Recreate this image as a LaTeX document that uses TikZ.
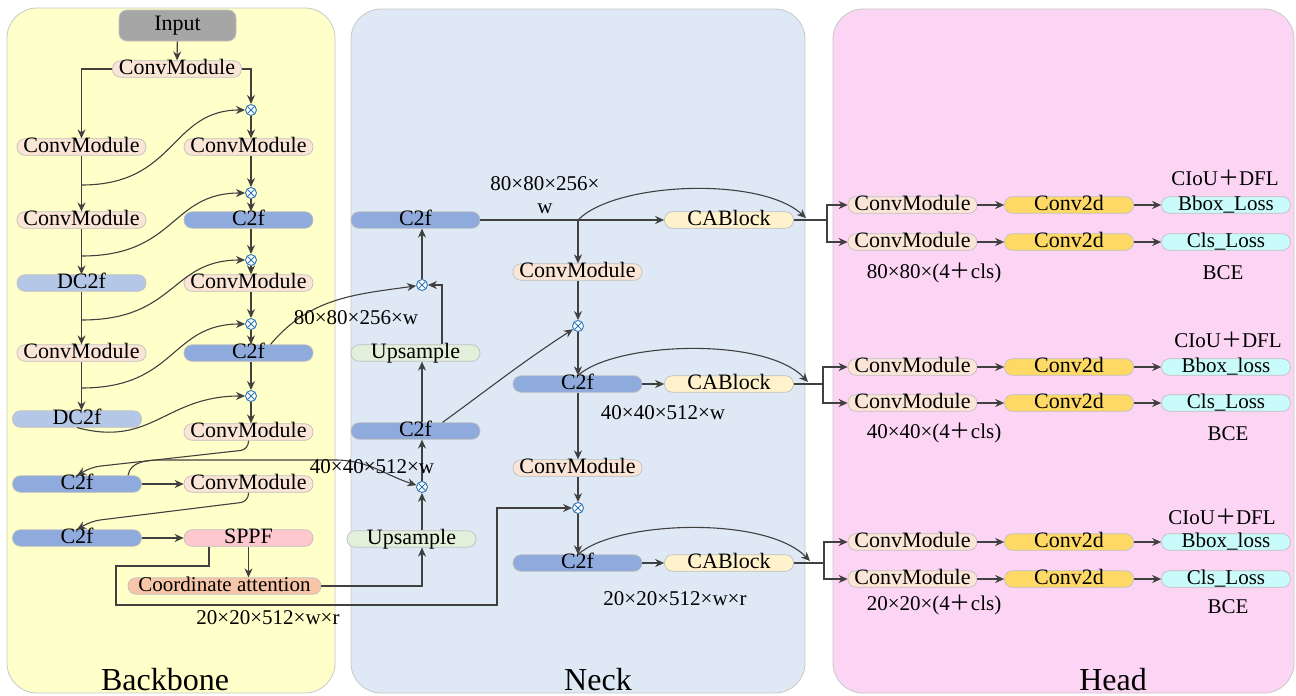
\documentclass[tikz,border=0pt]{standalone}
\usepackage{fontspec}
\setmainfont{Liberation Serif}
\newfontfamily\cjk{Noto Sans CJK SC}
\usetikzlibrary{arrows.meta,calc}
\definecolor{bbfill}{HTML}{FFFFC9}
\definecolor{neckfill}{HTML}{DEE9F5}
\definecolor{headfill}{HTML}{FCD5F5}
\definecolor{panelborder}{HTML}{C8C8C8}
\definecolor{boxborder}{HTML}{C0C0C0}
\definecolor{inputfill}{HTML}{A6A6A6}
\definecolor{cmfill}{HTML}{FBE5D6}
\definecolor{c2ffill}{HTML}{8FAADC}
\definecolor{dcfill}{HTML}{B4C7E7}
\definecolor{sppffill}{HTML}{FFC7CE}
\definecolor{cafill}{HTML}{F7C6A8}
\definecolor{upfill}{HTML}{E2EFDA}
\definecolor{cabfill}{HTML}{FFF2CC}
\definecolor{convfill}{HTML}{FFD966}
\definecolor{lossfill}{HTML}{C9FBFB}
\definecolor{xblue}{HTML}{2E75B6}
\definecolor{arrgray}{HTML}{404040}
\newcommand{\fplus}{{\cjk ＋}}
\begin{document}
\begin{tikzpicture}[x=1pt,y=-1pt,font=\rmfamily\fontsize{21}{25}\selectfont]
\tikzset{
 panelbox/.style={draw=panelborder,line width=0.8pt,rounded corners=30pt},
 modbox/.style={draw=boxborder,line width=0.7pt,rounded corners=8pt,minimum width=129pt,minimum height=16pt,inner sep=0pt,text height=13.5pt,text depth=3pt,font=\rmfamily\fontsize{22}{26}\selectfont},
 cmbox/.style={modbox,fill=cmfill},
 c2fbox/.style={modbox,fill=c2ffill},
 dcbox/.style={modbox,fill=dcfill},
 upbox/.style={modbox,fill=upfill},
 cabbox/.style={modbox,fill=cabfill},
 convbox/.style={modbox,fill=convfill},
 lossbox/.style={modbox,fill=lossfill,font=\rmfamily\fontsize{21}{25}\selectfont},
 otimesnode/.style={circle,draw=xblue,line width=0.9pt,fill=white,minimum size=11pt,inner sep=0pt,
   path picture={\draw[xblue,line width=0.9pt] (path picture bounding box.north west) -- (path picture bounding box.south east) (path picture bounding box.north east) -- (path picture bounding box.south west);}},
 arrline/.style={draw=arrgray,line width=1.1pt,-{Stealth[length=9pt,width=8pt]}},
 plainline/.style={draw=arrgray,line width=1.1pt},
 lbltext/.style={inner sep=0pt},
 titletext/.style={inner sep=0pt,anchor=base,font=\rmfamily\fontsize{32}{36}\selectfont},
}
\useasboundingbox (0,0) rectangle (1296,696);
\fill[white] (0,0) rectangle (1296,696);
% panels
\draw[panelbox,fill=bbfill] (7,8) rectangle (335,693);
\draw[panelbox,fill=neckfill] (351,9) rectangle (805,693);
\draw[panelbox,fill=headfill] (833,9) rectangle (1294,693);
\node[titletext] (tbb) at (165,690) {Backbone};
\node[titletext] (tnk) at (598,690) {Neck};
\node[titletext] (thd) at (1113,690) {Head};

% ---------------- Backbone ----------------
\node[modbox,fill=inputfill,minimum width=117pt,minimum height=31pt] (input) at (177.5,25.5) {Input};
\node[cmbox] (cm0) at (177,69) {ConvModule};
\node[cmbox] (cmL1) at (81.5,147) {ConvModule};
\node[cmbox] (cmL2) at (81.5,220) {ConvModule};
\node[dcbox] (dcL1) at (81.5,283) {DC2f};
\node[cmbox] (cmL3) at (81.5,353) {ConvModule};
\node[dcbox] (dcL2) at (77,419) {DC2f};
\node[otimesnode] (xb1) at (251,110) {};
\node[cmbox] (cmR1) at (248.5,147) {ConvModule};
\node[otimesnode] (xb2) at (251,193) {};
\node[c2fbox] (c2fR1) at (248.5,220) {C2f};
\node[otimesnode] (xb3) at (251,260) {};
\node[cmbox] (cmR2) at (248.5,283) {ConvModule};
\node[otimesnode] (xb4) at (251,324) {};
\node[c2fbox] (c2fR2) at (248.5,353) {C2f};
\node[otimesnode] (xb5) at (251,396) {};
\node[cmbox] (cmR3) at (248.5,432) {ConvModule};
\node[c2fbox] (c2fA) at (77,484) {C2f};
\node[cmbox] (cmR4) at (248.5,484) {ConvModule};
\node[c2fbox] (c2fB) at (77,538) {C2f};
\node[modbox,fill=sppffill] (sppf) at (248.5,538) {SPPF};
\node[modbox,fill=cafill,minimum width=193pt,font=\rmfamily\fontsize{21}{25}\selectfont] (ca) at (224.5,586) {Coordinate attention};

% ---------------- Neck nodes ----------------
\node[c2fbox] (c2fN1) at (415.5,220) {C2f};
\node[otimesnode] (xn1) at (422,285) {};
\node[upbox] (ups1) at (415.5,353) {Upsample};
\node[c2fbox] (c2fN2) at (415.5,431) {C2f};
\node[otimesnode] (xn2) at (422,487) {};
\node[upbox] (ups2) at (411.5,539) {Upsample};

\node[cmbox] (cmN1) at (577.5,272) {ConvModule};
\node[otimesnode] (xm1) at (578,326) {};
\node[c2fbox] (c2fM1) at (577.5,384) {C2f};
\node[cabbox] (cab1) at (729,220) {CABlock};
\node[cabbox] (cab2) at (729,384) {CABlock};
\node[cmbox] (cmN2) at (577.5,468) {ConvModule};
\node[otimesnode] (xm2) at (578,508) {};
\node[c2fbox] (c2fM2) at (577.5,563) {C2f};
\node[cabbox] (cab3) at (729,563) {CABlock};

% ---------------- Backbone edges ----------------
\draw[arrline] (input) -- (cm0);
\draw[arrline] (cm0.west) -| (cmL1.north);
\draw[arrline] (cm0.east) -| (xb1.north);
\draw[arrline] (cmL1) -- (cmL2);
\draw[arrline] (cmL2) -- (dcL1);
\draw[arrline] (dcL1) -- (cmL3);
\draw[arrline] (cmL3.south) -- (cmL3.south |- dcL2.north);
\coordinate (b1) at (81.5,185);
\coordinate (b2) at (81.5,256);
\coordinate (b3) at (81.5,320);
\coordinate (b4) at (81.5,388);
\draw[arrline] (b1) .. controls +(95,0) and +(-75,0) .. (xb1.west);
\draw[arrline] (b2) .. controls +(95,0) and +(-75,0) .. (xb2.west);
\draw[arrline] (b3) .. controls +(95,0) and +(-75,0) .. (xb3.west);
\draw[arrline] (b4) .. controls +(95,0) and +(-75,0) .. (xb4.west);
\draw[arrline] (dcL2.south) .. controls +(75,20) and +(-80,0) .. (xb5.west);
\draw[arrline] (xb1.south) -- (xb1.south |- cmR1.north);
\draw[arrline] (xb1 |- cmR1.south) -- (xb2.north);
\draw[arrline] (xb2.south) -- (xb2.south |- c2fR1.north);
\draw[arrline] (xb2 |- c2fR1.south) -- (xb3.north);
\draw[arrline] (xb3.south) -- (xb3.south |- cmR2.north);
\draw[arrline] (xb3 |- cmR2.south) -- (xb4.north);
\draw[arrline] (xb4.south) -- (xb4.south |- c2fR2.north);
\draw[arrline] (xb4 |- c2fR2.south) -- (xb5.north);
\draw[arrline] (xb5.south) -- (xb5.south |- cmR3.north);
\draw[arrline,rounded corners=8pt] (cmR3.south) -- ++(0,9) -- (92,467) -- (c2fA.north);
\draw[arrline,rounded corners=8pt] (cmR4.south) -- ++(0,9) -- (92,521) -- (c2fB.north);
\draw[arrline] (c2fA) -- (cmR4);
\draw[arrline] (c2fB) -- (sppf);
\draw[arrline] (sppf) -- (sppf |- ca.north);
\draw[arrline] ($(sppf.south)+(-39.5,0)$) |- (116,566) |- (497,605) |- (xm2.west);
\node[lbltext] (l20a) at (268,618) {20×20×512×w×r};

% ---------------- Neck edges ----------------
\draw[arrline] (xn1.north) -- (xn1.north |- c2fN1.south);
\draw[arrline] ($(ups1.north)+(26.5,0)$) |- (xn1.east);
\draw[arrline] (xn2 |- c2fN2.north) -- (xn2 |- ups1.south);
\draw[arrline] (xn2.north) -- (xn2 |- c2fN2.south);
\draw[arrline] (xn2 |- ups2.north) -- (xn2.south);
\draw[arrline] (ca.east) -| (xn2 |- ups2.south);
\draw[arrline] ($(c2fR2.north)+(22,0)$) to[out=50,in=188] (xn1);
\node[lbltext] (l80a) at (356,318) {80×80×256×w};
\draw[arrline] ($(c2fA.north)+(51,0)$) to[out=80,in=180] (162,460) -- (335,460) to[out=0,in=162] (xn2);
\node[lbltext] (l40a) at (372,467) {40×40×512×w};
\draw[arrline] ($(c2fN2.north)+(27,0)$) to[out=36,in=213] (xm1);

\coordinate (s1) at (xm1 |- c2fN1);
\draw[arrline] (c2fN1.east) -- (cab1.west);
\draw[arrline] (s1) -- (s1 |- cmN1.north);
\node[lbltext,align=center] (l80b) at (545,195) {80×80×256×\\[-2pt]w};
\draw[arrline] (xm1 |- cmN1.south) -- (xm1.north);
\draw[arrline] (xm1.south) -- (xm1 |- c2fM1.north);
\draw[arrline] (c2fM1) -- (cab2);
\draw[arrline] (xm1 |- c2fM1.south) -- (xm1 |- cmN2.north);
\draw[arrline] (xm1 |- cmN2.south) -- (xm2.north);
\draw[arrline] (xm2.south) -- (xm2 |- c2fM2.north);
\draw[arrline] (c2fM2) -- (cab3);
\node[lbltext] (l40b) at (663,413) {40×40×512×w};
\node[lbltext] (l20b) at (675,599) {20×20×512×w×r};

% splits
\draw[plainline] (cab1.east) -- (827,220) coordinate (sp1);
\draw[plainline] (cab2.east) -- (823,384) coordinate (sp2);
\draw[plainline] (cab3.east) -- (824,563) coordinate (sp3);
\draw[arrline] (s1) .. controls (615,182) and (760,176) .. (806,218);
\draw[arrline] (xm1 |- c2fM1.north) .. controls (615,342) and (765,336) .. (808,382);
\draw[arrline] (xm2 |- c2fM2.north) .. controls (615,521) and (765,515) .. (810,561);

% ---------------- Head ----------------
\foreach \r/\ya/\yb/\sp/\cy/\dl/\dy/\bx/\by/\cx/\bl in {1/205/242/sp1/178/80/273/1223/273/1225/Bbox\_Loss,2/367/403/sp2/340/40/433/1228/434/1228/Bbox\_loss,3/542/579/sp3/517/20/605/1228/607/1222/Bbox\_loss}{
  \node[cmbox] (hcm\r a) at (912.5,\ya) {ConvModule};
  \node[convbox] (hcv\r a) at (1069,\ya) {Conv2d};
  \node[lossbox] (hl\r a) at (1226,\ya) {\bl};
  \node[cmbox] (hcm\r b) at (912.5,\yb) {ConvModule};
  \node[convbox] (hcv\r b) at (1069,\yb) {Conv2d};
  \node[lossbox] (hl\r b) at (1226,\yb) {Cls\_Loss};
  \draw[arrline] (\sp) |- (hcm\r a.west);
  \draw[arrline] (\sp) |- (hcm\r b.west);
  \draw[arrline] (hcm\r a) -- (hcv\r a);
  \draw[arrline] (hcv\r a) -- (hl\r a);
  \draw[arrline] (hcm\r b) -- (hcv\r b);
  \draw[arrline] (hcv\r b) -- (hl\r b);
  \node[lbltext] (ciou\r) at (\cx,\cy) {CIoU\fplus DFL};
  \node[lbltext] (dim\r) at (934,\dy) {\dl×\dl×(4\fplus cls)};
  \node[lbltext] (bce\r) at (\bx,\by) {BCE};
}
\end{tikzpicture}
\end{document}
